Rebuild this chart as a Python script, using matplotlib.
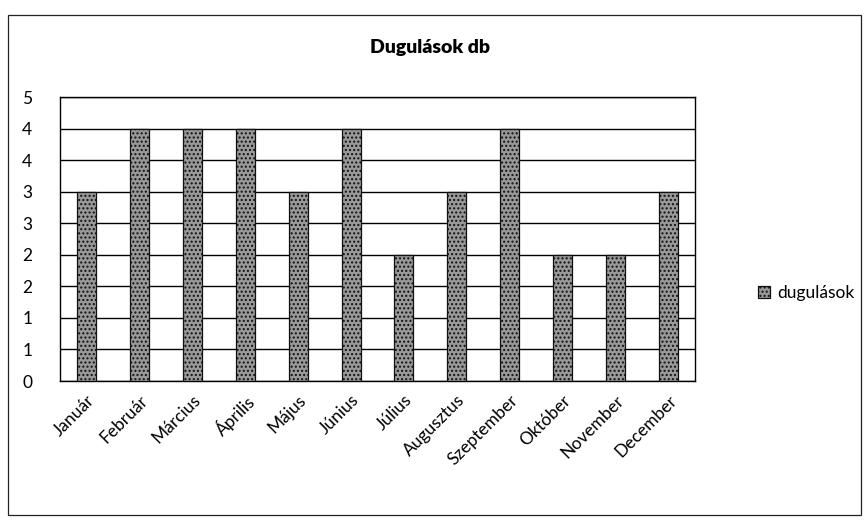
import math
import matplotlib
matplotlib.use("Agg")
import matplotlib.pyplot as plt
from matplotlib.patches import Rectangle
from matplotlib.ticker import FuncFormatter, MultipleLocator

plt.rcParams['font.family'] = ['Lato', 'DejaVu Sans']

months = ["Január", "Február", "Március", "Április", "Május", "Június",
          "Július", "Augusztus", "Szeptember", "Október", "November", "December"]
dugulasok = [3, 4, 4, 4, 3, 4, 2, 3, 4, 2, 2, 3]
series_name = "dugulások"
title = "Dugulások db"

fig = plt.figure(figsize=(8.64, 5.21), dpi=100)
W, H = 864, 521

# outer chart frame
fig.patches.append(Rectangle((8 / W, 1 - 515 / H), (861 - 8) / W, (515 - 15) / H,
                             transform=fig.transFigure, fill=False,
                             edgecolor="#222222", linewidth=0.9))

ax = fig.add_axes([60 / W, 1 - 381 / H, (695 - 60) / W, (381 - 97) / H])
x = list(range(len(months)))
ax.bar(x, dugulasok, width=0.36, color="#999999", edgecolor="#111111",
       linewidth=0.9, hatch="....", zorder=3)
ax.set_xlim(-0.5, len(months) - 0.5)
ax.set_ylim(0, 4.5)
ax.yaxis.set_major_locator(MultipleLocator(0.5))
ax.yaxis.set_major_formatter(FuncFormatter(lambda v, p: str(int(math.floor(v + 0.5)))))
ax.grid(axis="y", color="black", linewidth=1.0, zorder=0)
for s in ax.spines.values():
    s.set_color("black")
    s.set_linewidth(1.0)
ax.tick_params(axis="both", length=0, labelsize=12.5)
ax.tick_params(axis="y", pad=20)
ax.set_xticks(x)
ax.set_xticklabels(months, rotation=45, ha="right", rotation_mode="anchor")
ax.tick_params(axis="x", pad=8)

fig.text(430 / W, 1 - 47 / H, title, ha="center", va="center",
         fontsize=14, fontweight="heavy")

leg = ax.legend([series_name], loc="center left",
                bbox_to_anchor=(1.075, 0.31), frameon=False, fontsize=12.5,
                handlelength=0.7, handleheight=0.7, handletextpad=0.4)

fig.savefig("out.png", dpi=100)
